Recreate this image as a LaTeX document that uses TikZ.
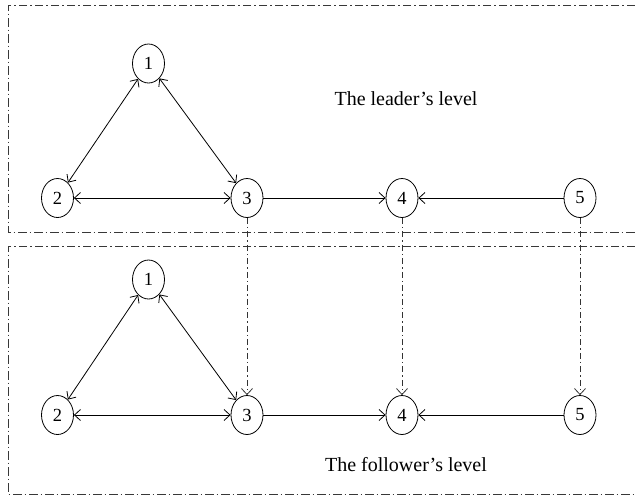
\documentclass[tikz,border=0pt]{standalone}
\usepackage{fontspec}
\setmainfont{Liberation Serif}
\usetikzlibrary{shapes.geometric,arrows.meta}
\begin{document}
\begin{tikzpicture}[x=1pt,y=-1pt,
  tip/.tip={Straight Barb[length=6pt,width=11pt,line width=0.8pt]},
  vx/.style={draw,ellipse,minimum width=32pt,minimum height=39pt,inner sep=0pt,line width=0.8pt,font=\fontsize{18.5}{18.5}\selectfont},
  edge/.style={line width=0.8pt,-tip},
  bi/.style={line width=0.8pt,tip-tip},
  frame/.style={line width=1pt,draw=black!78,dash pattern=on 8.5pt off 3pt on 1.5pt off 3pt},
  vlink/.style={line width=0.8pt,draw=black!80,dash pattern=on 6pt off 3pt on 1.5pt off 3pt,-tip},
  lab/.style={font=\fontsize{20}{20}\selectfont}]
\useasboundingbox (0,0) rectangle (635,496);
% frames
\draw[frame] (635,5) -- (8,5) -- (8,232) -- (635,232);
\draw[frame] (635,246) -- (8,246) -- (8,494) -- (635,494);
% top level
\node[vx] (t1) at (148.5,63.5) {1};
\node[vx] (t2) at (57.5,198) {2};
\node[vx] (t3) at (247,198) {3};
\node[vx] (t4) at (402,198) {4};
\node[vx] (t5) at (580,198) {5};
% bottom level
\node[vx] (b1) at (148.5,279.5) {1};
\node[vx] (b2) at (57.5,415) {2};
\node[vx] (b3) at (247,415) {3};
\node[vx] (b4) at (402,415) {4};
\node[vx] (b5) at (580,415) {5};
\node[lab] (ll) at (406,99) {The leader’s level};
\node[lab] (fl) at (406,465) {The follower’s level};
% edges
\foreach \p in {t,b}{
  \draw[bi] (\p1) -- (\p2);
  \draw[bi] (\p1) -- (\p3);
  \draw[bi] (\p2) -- (\p3);
  \draw[edge] (\p3) -- (\p4);
  \draw[edge] (\p5) -- (\p4);
}
\draw[vlink] (t3) -- (b3);
\draw[vlink] (t4) -- (b4);
\draw[vlink] (t5) -- (b5);
\end{tikzpicture}
\end{document}
